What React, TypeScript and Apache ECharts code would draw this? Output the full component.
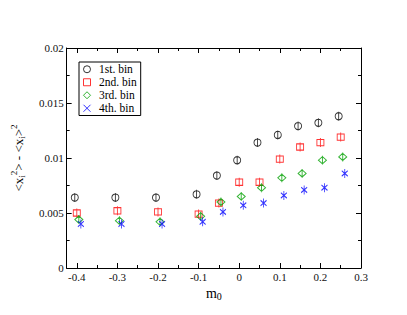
import React, { useEffect, useRef } from "react";
import * as echarts from "echarts";

const FONT = "'Liberation Serif', 'Times New Roman', serif";

const seriesNames = ["1st. bin", "2nd. bin", "3rd. bin", "4th. bin"];
const bin1X = [-0.405, -0.305, -0.205, -0.105, -0.055, -0.005, 0.045, 0.095, 0.145, 0.195, 0.245];
const bin1Y = [0.0064, 0.0064, 0.0064, 0.0067, 0.0084, 0.0098, 0.0114, 0.0121, 0.0129, 0.0132, 0.0138];
const bin2X = [-0.4, -0.3, -0.2, -0.1, -0.05, 0, 0.05, 0.1, 0.15, 0.2, 0.25];
const bin2Y = [0.005, 0.0052, 0.0051, 0.0049, 0.0059, 0.0078, 0.0078, 0.0099, 0.011, 0.0114, 0.0119];
const bin3X = [-0.395, -0.295, -0.195, -0.095, -0.045, 0.005, 0.055, 0.105, 0.155, 0.205, 0.255];
const bin3Y = [0.0044, 0.0043, 0.0042, 0.0047, 0.006, 0.0065, 0.0073, 0.0082, 0.0086, 0.0098, 0.0101];
const bin4X = [-0.39, -0.29, -0.19, -0.09, -0.04, 0.01, 0.06, 0.11, 0.16, 0.21, 0.26];
const bin4Y = [0.004, 0.004, 0.004, 0.0042, 0.0051, 0.0057, 0.0059, 0.0066, 0.0071, 0.0073, 0.0086];

const xs = [bin1X, bin2X, bin3X, bin4X];
const ys = [bin1Y, bin2Y, bin3Y, bin4Y];
const colors = ["#000000", "#ff0000", "#00a000", "#0000ff"];

const markerPaths = [
  "path://M5,0L5,10M1,5A4,4,0,1,1,9,5A4,4,0,1,1,1,5Z",
  "path://M5,0L5,10M1.5,1.5L8.5,1.5L8.5,8.5L1.5,8.5Z",
  "path://M5,0L5,10M5,1L9,5L5,9L1,5Z",
  "path://M5,0L5,10M2,2L8,8M8,2L2,8",
];
const markerSizes: [number, number][] = [
  [7, 9],
  [7, 9],
  [8, 9],
  [6, 9],
];
const legendIcons = [
  "path://M1,5A4,4,0,1,1,9,5A4,4,0,1,1,1,5Z",
  "path://M0,0L8,0L8,8L0,8Z",
  "path://M4,0L8,4L4,8L0,4Z",
  "path://M0,0L8,8M8,0L0,8",
];

const X_MIN = -0.425;
const X_MAX = 0.3;

function xLabel(v: number) {
  const r = Math.round(v * 10) / 10;
  if (Math.abs(r - v) > 1e-6) return "";
  if (Math.abs(r) < 1e-9) return "0";
  return String(r);
}

export default function App() {
  const ref = useRef<HTMLDivElement>(null);
  useEffect(() => {
    if (!ref.current) return;
    const chart = echarts.init(ref.current, null, { renderer: "svg" });
    const axisLineStyle = { color: "#000", width: 1 };
    const baseX = (pos: "top" | "bottom", major: boolean, labels: boolean) => ({
      type: "value",
      position: pos,
      min: X_MIN,
      max: X_MAX,
      splitNumber: major ? 7 : 14,
      axisLine: { show: major, onZero: false, lineStyle: axisLineStyle },
      axisTick: { show: true, inside: true, length: major ? 5 : 3, lineStyle: { color: "#000" } },
      axisLabel: {
        show: labels,
        showMinLabel: false,
        formatter: xLabel,
        fontFamily: FONT,
        fontSize: 11,
        color: "#111",
        margin: 3,
      },
      splitLine: { show: false },
    });
    const baseY = (pos: "left" | "right", labels: boolean) => ({
      type: "value",
      position: pos,
      min: 0,
      max: 0.02,
      interval: 0.005,
      axisLine: { show: true, onZero: false, lineStyle: axisLineStyle },
      axisTick: { show: true, inside: true, length: 5, lineStyle: { color: "#000" } },
      minorTick: { show: true, splitNumber: 2, length: 3, lineStyle: { color: "#000" } },
      axisLabel: {
        show: labels,
        fontFamily: FONT,
        fontSize: 11,
        color: "#111",
        margin: 3,
        formatter: (v: number) => (v === 0 ? "0" : String(Math.round(v * 1000) / 1000)),
      },
      splitLine: { show: false },
      minorSplitLine: { show: false },
    });
    const xAxes: any[] = [
      {
        ...baseX("bottom", true, true),
        name: "m{sub|0}",
        nameLocation: "middle",
        nameGap: 9,
        nameTextStyle: {
          fontFamily: FONT,
          fontSize: 14,
          color: "#000",
          rich: {
            sub: { fontFamily: FONT, fontSize: 10, verticalAlign: "bottom", padding: [6, 0, 0, 0] },
          },
        },
      },
      baseX("bottom", false, false),
      baseX("top", true, false),
      baseX("top", false, false),
    ];
    const yAxes: any[] = [
      {
        ...baseY("left", true),
        name: "<x{b|i}{s|2}> - <x{b|i}>{s|2}",
        nameLocation: "middle",
        nameGap: 21,
        nameRotate: 90,
        nameTextStyle: {
          fontFamily: FONT,
          fontSize: 13,
          color: "#000",
          lineHeight: 20,
          rich: {
            b: { fontFamily: FONT, fontSize: 9, color: "#000", padding: [8, 0, 0, 0] },
            s: { fontFamily: FONT, fontSize: 9, color: "#000", padding: [0, 0, 8, 0] },
          },
        },
      },
      baseY("right", false),
    ];
    const series: any[] = seriesNames.map((name, i) => ({
      name,
      type: "scatter",
      xAxisIndex: 0,
      yAxisIndex: 0,
      symbol: markerPaths[i],
      symbolSize: markerSizes[i],
      itemStyle: { color: "none", borderColor: colors[i], borderWidth: 1 },
      emphasis: { disabled: true },
      data: xs[i].map((x, j) => [x, ys[i][j]]),
    }));
    chart.setOption({
      animation: false,
      backgroundColor: "#fff",
      grid: { left: 47, right: 46, top: 48, bottom: 47, containLabel: false },
      xAxis: xAxes,
      yAxis: yAxes,
      legend: {
        orient: "vertical",
        left: 79,
        top: 62,
        padding: [1, 4, 1, 2],
        itemGap: 0.5,
        itemWidth: 14,
        itemHeight: 7,
        borderColor: "#000",
        borderWidth: 1,
        backgroundColor: "#fff",
        selectedMode: false,
        textStyle: { fontFamily: FONT, fontSize: 11.5, color: "#000", lineHeight: 12.5 },
        data: seriesNames.map((n, i) => ({
          name: n,
          icon: legendIcons[i],
          itemStyle: { color: "none", borderColor: colors[i], borderWidth: 1 },
        })),
      },
      series,
    });
    return () => chart.dispose();
  }, []);
  return <div ref={ref} style={{ width: 407, height: 315, margin: -8 }} />;
}
